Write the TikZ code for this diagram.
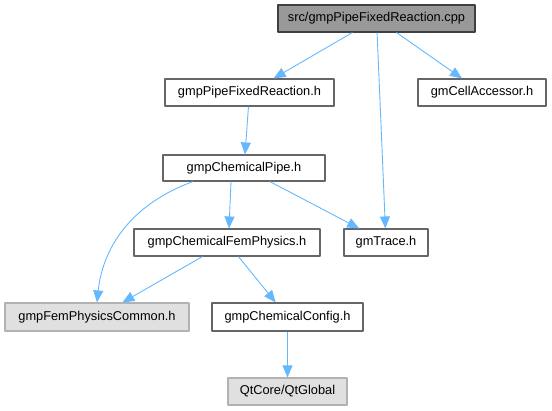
\documentclass[tikz,border=0pt]{standalone}
\usepackage{fontspec}
\setmainfont{Liberation Sans}
\usetikzlibrary{arrows.meta,calc}
\definecolor{edgeblue}{HTML}{63B8FF}
\begin{document}
\begin{tikzpicture}[x=1pt,y=-1pt,>={Triangle[length=12pt,width=10pt]}, line join=round,
	box/.style={draw=black!60,line width=1.1pt,fill=white,minimum height=27pt,inner sep=0pt,font=\fontsize{12.8}{15}\selectfont},
	rootbox/.style={box,draw=black!75,fill=black!40},
	extbox/.style={box,draw=black!30,fill=black!12},
	edge/.style={->,draw=edgeblue,line width=0.9pt}]
	\useasboundingbox (0,0) rectangle (552,411);
	% Dateien
	\node[rootbox,minimum width=197pt] (root) at (376.5,18.5) {src/gmpPipeFixedReaction.cpp};
	\node[box,minimum width=169pt] (pfr) at (249.5,92.5) {gmpPipeFixedReaction.h};
	\node[box,minimum width=128pt] (cell) at (482,92.5) {gmCellAccessor.h};
	\node[box,minimum width=162pt,minimum height=26pt] (pipe) at (244,168) {gmpChemicalPipe.h};
	\node[box,minimum width=186pt] (fem) at (227,242.5) {gmpChemicalFemPhysics.h};
	\node[box,minimum width=84pt] (trace) at (386,242.5) {gmTrace.h};
	\node[extbox,minimum width=184pt,minimum height=28pt] (common) at (97,317) {gmpFemPhysicsCommon.h};
	\node[box,minimum width=151pt,minimum height=28pt] (config) at (287.5,317) {gmpChemicalConfig.h};
	\node[extbox,minimum width=119pt] (qt) at (287.5,391.5) {QtCore/QtGlobal};
	% Abhaengigkeiten
	\draw[edge] (root) -- (pfr);
	\draw[edge] (root) -- (trace);
	\draw[edge] (root) -- (cell);
	\draw[edge] (pfr) -- (pipe);
	\draw[edge] ($(pipe.south)+(-51,0)$) to[out=200,in=84] (common.north);
	\draw[edge] ($(pipe.south)+(-13,0)$) -- ($(fem.north)+(2,0)$);
	\draw[edge] (pipe) -- (trace);
	\draw[edge] (fem) -- (common);
	\draw[edge] (fem) -- (config);
	\draw[edge] (config) -- (qt);
\end{tikzpicture}
\end{document}
